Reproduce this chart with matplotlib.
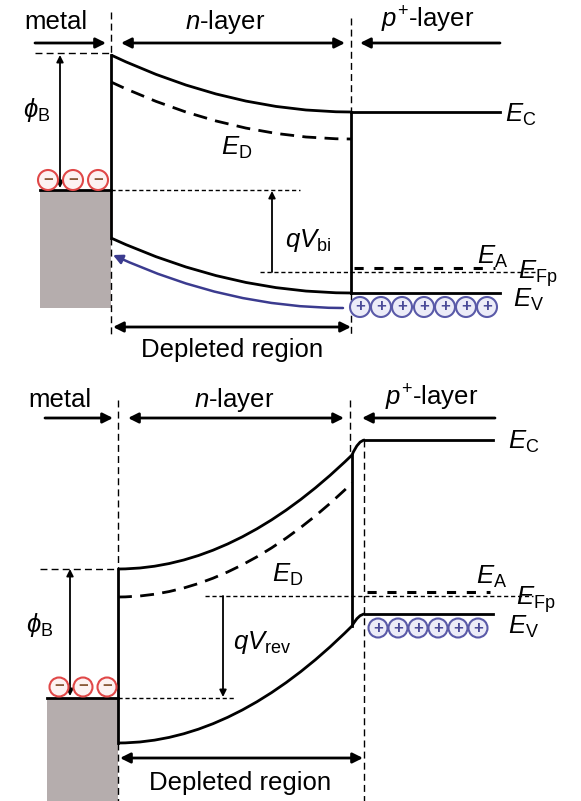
import matplotlib.pyplot as plt
from matplotlib.path import Path
from matplotlib.patches import PathPatch, Rectangle, Circle, FancyArrowPatch

plt.rcParams['font.family'] = ['Liberation Sans', 'DejaVu Sans']
plt.rcParams['mathtext.fontset'] = 'custom'
plt.rcParams['mathtext.rm'] = 'Liberation Sans'
plt.rcParams['mathtext.it'] = 'Liberation Sans:italic'
plt.rcParams['mathtext.sf'] = 'Liberation Sans'

# ---- band levels (pixel units, y grows downward) ----
# top panel: zero bias
top_x = [111, 351, 500]          # metal interface, depletion edge, end of p+ layer
top_EC = [55, 112]               # interface, bulk
top_ED = [82, 139]
top_EV = [238, 293]
top_EF_metal = 190
top_EFp = 272
top_EA = 268
top_hole_x = [360, 381, 402, 424, 445, 466, 487]
top_elec_x = [48, 73, 98]

# bottom panel: reverse bias
bot_x = [118, 352, 365, 493]
bot_EC = [569, 455, 440]         # interface, edge, p+ bulk
bot_ED = [597, 483]
bot_EV = [743, 626, 614]
bot_EF_metal = 698
bot_EFp = 596
bot_EA = 592
bot_hole_x = [378, 398, 418, 438, 458, 478]
bot_elec_x = [59, 83, 107]

fig = plt.figure(figsize=(5.81, 8.01), dpi=100)
ax = fig.add_axes([0, 0, 1, 1])
ax.set_xlim(0, 581)
ax.set_ylim(801, 0)
ax.axis('off')

LW = 2.0
FS = 18.5


def bez(x0, y0, x1, y1, flat_end, **kw):
    # quadratic curve, horizontal tangent at the chosen end (depletion parabola)
    if flat_end == 'right':
        ctrl = ((x0 + x1) / 2, y1)
    else:
        ctrl = ((x0 + x1) / 2, y0)
    p = Path([(x0, y0), ctrl, (x1, y1)], [Path.MOVETO, Path.CURVE3, Path.CURVE3])
    ax.add_patch(PathPatch(p, fill=False, **kw))


def arrow(x0, y0, x1, y1, style='-|>', lw=LW, ms=15, color='black'):
    ax.annotate('', xy=(x1, y1), xytext=(x0, y0),
                arrowprops=dict(arrowstyle=style, lw=lw, color=color,
                                mutation_scale=ms, shrinkA=0, shrinkB=0))


def charges(xs, y, r, sign, edge, face, txt):
    for x in xs:
        ax.add_patch(Circle((x, y), r, facecolor=face, edgecolor=edge, lw=1.5, zorder=3))
        ax.text(x, y, sign, ha='center', va='center', fontsize=12, color=txt,
                fontweight='bold', zorder=4)


# ================= top panel =================
ax.text(56, 22, 'metal', ha='center', va='center', fontsize=FS)
ax.text(225, 22, '$n$-layer', ha='center', va='center', fontsize=FS)
ax.text(428, 20, '$p^{+}$-layer', ha='center', va='center', fontsize=FS)
arrow(35, 43, 106, 43)
arrow(121, 43, 345, 43, style='<|-|>')
arrow(500, 43, 360, 43)

# boundaries
ax.plot([top_x[0]] * 2, [12, top_EC[0]], ls=(0, (5, 3)), color='black', lw=1)
ax.plot([top_x[0]] * 2, [top_EV[0], 335], ls=(0, (5, 3)), color='black', lw=1)
ax.plot([top_x[1]] * 2, [18, top_EC[1]], ls=(0, (5, 3)), color='black', lw=1)
ax.plot([top_x[1]] * 2, [top_EV[1], 335], ls=(0, (5, 3)), color='black', lw=1)
ax.plot([top_x[0]] * 2, [top_EC[0], top_EV[0]], color='black', lw=LW)
ax.plot([top_x[1]] * 2, [top_EC[1], top_EV[1]], color='black', lw=LW)

# metal
ax.add_patch(Rectangle((40, top_EF_metal), top_x[0] - 40, 308 - top_EF_metal,
                       facecolor='#b5adad', edgecolor='none'))
ax.plot([40, top_x[0]], [top_EF_metal] * 2, color='black', lw=LW)
ax.plot([35, top_x[0]], [53, 53], ls=(0, (5, 3)), color='black', lw=1)
arrow(60, 188, 60, 55, style='<|-|>', lw=1.3, ms=10)
ax.text(37, 110, r'$\phi_{\mathrm{B}}$', ha='center', va='center', fontsize=FS)
charges(top_elec_x, 180, 10, '−', '#e04848', '#fdf2f2', '#8a5a3a')

# bands
bez(top_x[0], top_EC[0], top_x[1], top_EC[1], 'right', color='black', lw=LW)
ax.plot([top_x[1], top_x[2]], [top_EC[1]] * 2, color='black', lw=LW)
bez(top_x[0], top_ED[0], top_x[1], top_ED[1], 'right', color='black', lw=LW,
    linestyle=(0, (5, 3)))
bez(top_x[0], top_EV[0], top_x[1], top_EV[1], 'right', color='black', lw=LW)
ax.plot([top_x[1], top_x[2]], [top_EV[1]] * 2, color='black', lw=LW)

# fermi / acceptor levels
ax.plot([top_x[0], 300], [top_EF_metal] * 2, ls=(0, (3, 2)), color='black', lw=1)
ax.plot([260, 537], [top_EFp] * 2, ls=(0, (3, 2)), color='black', lw=1)
ax.plot([top_x[1] + 3, 495], [top_EA] * 2, ls=(0, (3, 3.5)), color='black', lw=2.2)
arrow(272, top_EFp, 272, top_EF_metal + 1, lw=1.3, ms=10)
ax.text(308, 240, r'$qV_{\mathrm{bi}}$', ha='center', va='center', fontsize=FS)

# hole injection arrow
hp = Path([(343, 308), (228, 308), (113, 255)], [Path.MOVETO, Path.CURVE3, Path.CURVE3])
ax.add_patch(FancyArrowPatch(path=hp, arrowstyle='-|>', mutation_scale=14,
                             color='#3b3b8f', lw=1.8))
charges(top_hole_x, 307, 10, '+', '#5a5aa8', '#ececf8', '#4a4a98')

# labels
ax.text(505, 115, r'$E_{\mathrm{C}}$', ha='left', va='center', fontsize=FS)
ax.text(237, 148, r'$E_{\mathrm{D}}$', ha='center', va='center', fontsize=FS)
ax.text(493, 257, r'$E_{\mathrm{A}}$', ha='center', va='center', fontsize=FS)
ax.text(538, 274, r'$E_{\mathrm{Fp}}$', ha='center', va='center', fontsize=FS)
ax.text(513, 300, r'$E_{\mathrm{V}}$', ha='left', va='center', fontsize=FS)

arrow(113, 327, 351, 327, style='<|-|>')
ax.text(232, 350, 'Depleted region', ha='center', va='center', fontsize=FS)

# ================= bottom panel =================
ax.text(60, 400, 'metal', ha='center', va='center', fontsize=FS)
ax.text(234, 400, '$n$-layer', ha='center', va='center', fontsize=FS)
ax.text(432, 398, '$p^{+}$-layer', ha='center', va='center', fontsize=FS)
arrow(45, 418, 113, 418)
arrow(128, 418, 344, 418, style='<|-|>')
arrow(495, 418, 362, 418)

ax.plot([bot_x[0]] * 2, [400, bot_EC[0]], ls=(0, (5, 3)), color='black', lw=1)
ax.plot([bot_x[0]] * 2, [bot_EV[0], 801], ls=(0, (5, 3)), color='black', lw=1)
ax.plot([350, 350], [400, 455], ls=(0, (5, 3)), color='black', lw=1)
ax.plot([bot_x[2] - 1] * 2, [440, 801], ls=(0, (5, 3)), color='black', lw=1)
ax.plot([bot_x[0]] * 2, [bot_EC[0], bot_EV[0]], color='black', lw=LW)
ax.plot([bot_x[1]] * 2, [bot_EC[1], bot_EV[1]], color='black', lw=LW)

ax.add_patch(Rectangle((47, bot_EF_metal), bot_x[0] - 47, 801 - bot_EF_metal,
                       facecolor='#b5adad', edgecolor='none'))
ax.plot([47, bot_x[0]], [bot_EF_metal] * 2, color='black', lw=LW)
ax.plot([40, bot_x[0]], [bot_EC[0]] * 2, ls=(0, (5, 3)), color='black', lw=1)
arrow(70, 696, 70, bot_EC[0], style='<|-|>', lw=1.3, ms=10)
ax.text(40, 625, r'$\phi_{\mathrm{B}}$', ha='center', va='center', fontsize=FS)
charges(bot_elec_x, 687, 9.5, '−', '#e04848', '#fdf2f2', '#8a5a3a')

bez(bot_x[0], bot_EC[0], bot_x[1], bot_EC[1], 'left', color='black', lw=LW)
bez(bot_x[1], bot_EC[1], bot_x[2], bot_EC[2], 'right', color='black', lw=LW)
ax.plot([bot_x[2], bot_x[3]], [bot_EC[2]] * 2, color='black', lw=LW)
bez(bot_x[0], bot_ED[0], bot_x[1], bot_ED[1], 'left', color='black', lw=LW,
    linestyle=(0, (5, 3)))
bez(bot_x[0], bot_EV[0], bot_x[1], bot_EV[1], 'left', color='black', lw=LW)
bez(bot_x[1], bot_EV[1], bot_x[2], bot_EV[2], 'right', color='black', lw=LW)
ax.plot([bot_x[2], bot_x[3]], [bot_EV[2]] * 2, color='black', lw=LW)

ax.plot([bot_x[0], 235], [bot_EF_metal] * 2, ls=(0, (3, 2)), color='black', lw=1)
ax.plot([205, 533], [bot_EFp] * 2, ls=(0, (3, 2)), color='black', lw=1)
ax.plot([bot_x[2] + 2, 490], [bot_EA] * 2, ls=(0, (3, 3.5)), color='black', lw=2.2)
arrow(223, bot_EFp, 223, bot_EF_metal - 1, lw=1.3, ms=10)
ax.text(262, 643, r'$qV_{\mathrm{rev}}$', ha='center', va='center', fontsize=FS)
charges(bot_hole_x, 628, 9.5, '+', '#5a5aa8', '#ececf8', '#4a4a98')

ax.text(508, 442, r'$E_{\mathrm{C}}$', ha='left', va='center', fontsize=FS)
ax.text(288, 575, r'$E_{\mathrm{D}}$', ha='center', va='center', fontsize=FS)
ax.text(492, 577, r'$E_{\mathrm{A}}$', ha='center', va='center', fontsize=FS)
ax.text(536, 600, r'$E_{\mathrm{Fp}}$', ha='center', va='center', fontsize=FS)
ax.text(508, 627, r'$E_{\mathrm{V}}$', ha='left', va='center', fontsize=FS)

arrow(120, 758, 363, 758, style='<|-|>')
ax.text(240, 783, 'Depleted region', ha='center', va='center', fontsize=FS)

fig.savefig('out.png', dpi=100)
